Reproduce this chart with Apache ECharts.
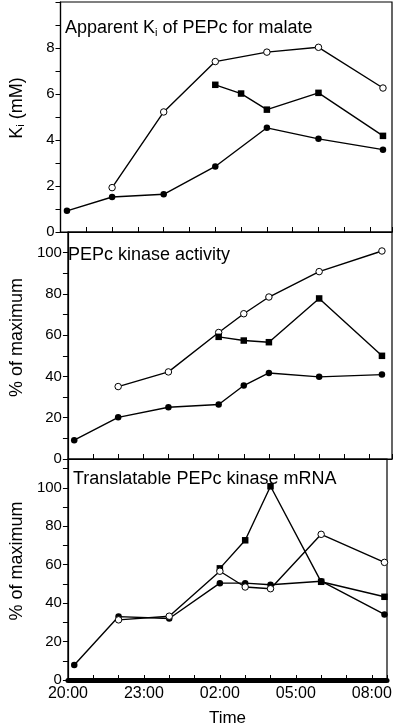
<!DOCTYPE html>
<html><head><meta charset="utf-8">
<script src="https://cdn.jsdelivr.net/npm/echarts@6/dist/echarts.min.js"></script>
<style>html,body{margin:0;padding:0;background:#fff}#c{width:400px;height:728px}</style>
</head><body><div id="c"></div>
<script>
// Time in hours after 20:00
const tickLabels = ['20:00','23:00','02:00','05:00','08:00'];

// Panel 1: Apparent Ki of PEPc for malate (mM)
const p1FilledT = [0.25, 2, 4, 6, 8, 10, 12.5];
const p1FilledV = [0.92, 1.52, 1.64, 2.85, 4.53, 4.05, 3.58];
const p1OpenT = [2, 4, 6, 8, 10, 12.5];
const p1OpenV = [1.93, 5.22, 7.41, 7.82, 8.03, 6.26];
const p1SquareT = [6, 7, 8, 10, 12.5];
const p1SquareV = [6.40, 6.02, 5.32, 6.05, 4.18];

// Panel 2: PEPc kinase activity (% of maximum)
const p2FilledT = [0.25, 2, 4, 6, 7, 8, 10, 12.5];
const p2FilledV = [9.1, 20.2, 25.1, 26.4, 35.6, 41.7, 39.8, 40.9];
const p2OpenT = [2, 4, 6, 7, 8, 10, 12.5];
const p2OpenV = [35.1, 42.2, 61.3, 70.4, 78.5, 90.8, 100.8];
const p2SquareT = [6, 7, 8, 10, 12.5];
const p2SquareV = [59.2, 57.4, 56.6, 77.8, 50.0];

// Panel 3: Translatable PEPc kinase mRNA (% of maximum)
const p3FilledT = [0.25, 2, 4, 6, 7, 8, 10, 12.5];
const p3FilledV = [7.8, 33.0, 32.0, 50.4, 50.4, 49.6, 51.4, 34.1];
const p3OpenT = [2, 4, 6, 7, 8, 10, 12.5];
const p3OpenV = [31.3, 33.2, 56.6, 48.4, 47.5, 75.8, 61.2];
const p3SquareT = [6, 7, 8, 10, 12.5];
const p3SquareV = [58.1, 72.7, 100.8, 51.1, 43.3];

const FONT = '"Liberation Sans", Arial, sans-serif';
const zip = (t, v) => t.map((x, i) => [x, v[i]]);

const grids = [
  {left: 55, right: 8, top: 2, height: 230},
  {left: 54, right: 8, top: 232, height: 227},
  {left: 58, right: 13, top: 459, height: 225}
];
grids.forEach(g => { g.show = true; g.borderColor = '#000'; g.borderWidth = 1.2; g.backgroundColor = 'transparent'; });

function xAxisFor(i, max) {
  const last = i === 2;
  return {
    type: 'value', gridIndex: i, min: 0, max: max, interval: 1,
    axisLine: {show: true, onZero: false, lineStyle: {color: '#000', width: last ? 5 : 1.2}},
    axisTick: {show: true, inside: true, length: 5, lineStyle: {color: '#000', width: 1}},
    splitLine: {show: false},
    axisLabel: {
      show: last, color: '#000', fontFamily: FONT, fontSize: 16, margin: 6,
      formatter: v => {
        const r = Math.round(v);
        if (Math.abs(v - r) > 1e-6 || r % 3 !== 0) return '';
        return tickLabels[r / 3] || '';
      }
    },
    name: last ? 'Time' : '', nameLocation: 'middle', nameGap: 30,
    nameTextStyle: {color: '#000', fontFamily: FONT, fontSize: 17}
  };
}
function yAxisFor(i, max, interval, labelStep, labelMax, name, shiftUp, rich) {
  return {
    type: 'value', gridIndex: i, min: 0, max: max, interval: interval,
    axisLine: {show: true, lineStyle: {color: '#000', width: 1.2}},
    axisTick: {show: true, inside: false, length: 5, lineStyle: {color: '#000', width: 1}},
    splitLine: {show: false},
    axisLabel: {
      color: '#000', fontFamily: FONT, fontSize: 15, margin: 6,
      formatter: v => {
        const r = Math.round(v);
        if (Math.abs(v - r) > 1e-6 || r % labelStep !== 0 || r > labelMax) return '';
        return String(r);
      }
    },
    name: name, nameLocation: 'middle', nameGap: 34, nameRotate: 90,
    nameTextStyle: {color: '#000', fontFamily: FONT, fontSize: 18, rich: rich,
      padding: [0, 0, 0, shiftUp * 2]}
  };
}

const subRich = {
  n: {fontFamily: FONT, fontSize: 18, color: '#000'},
  sub: {fontFamily: FONT, fontSize: 11, color: '#000', verticalAlign: 'bottom', padding: [8, 0, 0, 0]}
};

function series(i, data, kind) {
  const s = {
    type: 'line', xAxisIndex: i, yAxisIndex: i, data: data,
    lineStyle: {color: '#000', width: 1.4},
    showAllSymbol: true, animation: false, z: 3
  };
  if (kind === 'filled') {
    s.symbol = 'circle'; s.symbolSize = 6.5;
    s.itemStyle = {color: '#000', borderColor: '#000', borderWidth: 0};
  } else if (kind === 'open') {
    s.symbol = 'circle'; s.symbolSize = 6.5;
    s.itemStyle = {color: '#fff', borderColor: '#000', borderWidth: 1};
  } else {
    s.symbol = 'rect'; s.symbolSize = 6.5;
    s.itemStyle = {color: '#000', borderColor: '#000', borderWidth: 0};
  }
  return s;
}

const option = {
  backgroundColor: '#fff',
  animation: false,
  grid: grids,
  title: [
    {text: 'Apparent K{sub|i} of PEPc for malate', left: 60, top: 14,
      textStyle: {fontFamily: FONT, fontSize: 18, fontWeight: 'normal', color: '#000', rich: subRich}},
    {text: 'PEPc kinase activity', left: 63, top: 241,
      textStyle: {fontFamily: FONT, fontSize: 18, fontWeight: 'normal', color: '#000'}},
    {text: 'Translatable PEPc kinase mRNA', left: 68, top: 465,
      textStyle: {fontFamily: FONT, fontSize: 18, fontWeight: 'normal', color: '#000'}}
  ],
  xAxis: [xAxisFor(0, 12.85), xAxisFor(1, 12.9), xAxisFor(2, 12.6)],
  yAxis: [
    yAxisFor(0, 10, 1, 2, 8, '{n|K}{sub|i}{n| (mM)}', 9, subRich),
    yAxisFor(1, 110, 10, 20, 100, '% of maximum', 8),
    yAxisFor(2, 115, 10, 20, 100, '% of maximum', 8.5)
  ],
  series: [
    series(0, zip(p1OpenT, p1OpenV), 'open'),
    series(0, zip(p1SquareT, p1SquareV), 'square'),
    series(0, zip(p1FilledT, p1FilledV), 'filled'),
    series(1, zip(p2OpenT, p2OpenV), 'open'),
    series(1, zip(p2SquareT, p2SquareV), 'square'),
    series(1, zip(p2FilledT, p2FilledV), 'filled'),
    series(2, zip(p3SquareT, p3SquareV), 'square'),
    series(2, zip(p3FilledT, p3FilledV), 'filled'),
    series(2, zip(p3OpenT, p3OpenV), 'open')
  ]
};
const chart = echarts.init(document.getElementById('c'), null, {renderer: 'canvas'});
chart.setOption(option);
</script>
</body></html>
